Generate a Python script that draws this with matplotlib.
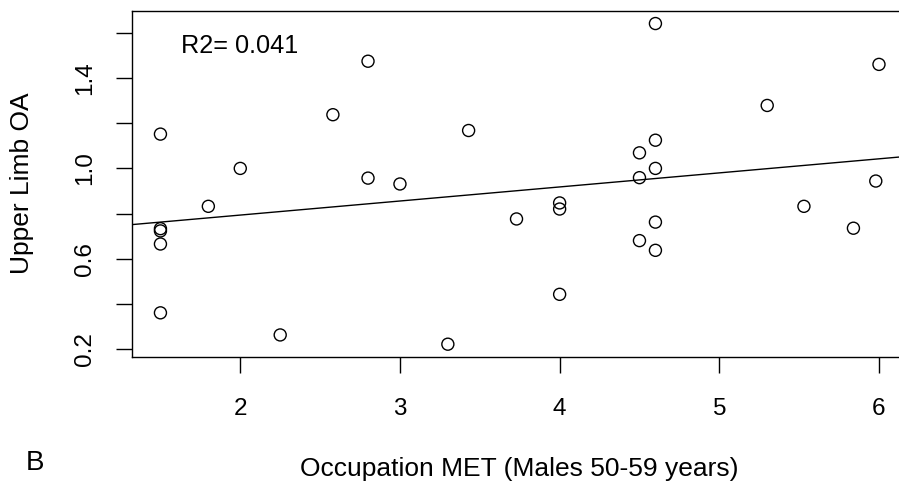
import matplotlib
matplotlib.use("Agg")
import matplotlib.pyplot as plt
import numpy as np

plt.rcParams['font.family'] = ['Liberation Sans', 'DejaVu Sans']

# Occupation MET vs Upper Limb OA
met = [1.5, 2.8, 2.58, 3.43, 2.0, 2.8, 3.0, 1.8, 1.5, 1.5, 1.5, 1.5, 2.25, 3.3,
       4.6, 6.0, 5.3, 4.6, 4.5, 4.6, 4.5, 5.98, 4.0, 4.0, 3.73, 5.53, 5.84,
       4.6, 4.5, 4.6, 4.0]
oa = [1.152, 1.475, 1.238, 1.168, 1.0, 0.957, 0.931, 0.832, 0.733, 0.723, 0.665,
      0.360, 0.262, 0.221, 1.642, 1.461, 1.279, 1.125, 1.069, 1.0, 0.959, 0.944,
      0.847, 0.820, 0.776, 0.832, 0.735, 0.762, 0.680, 0.637, 0.442]
xticks = [2, 3, 4, 5, 6]
yticks = [0.2, 0.4, 0.6, 0.8, 1.0, 1.2, 1.4, 1.6]
ylabels = ['0.2', '', '0.6', '', '1.0', '', '1.4', '']
r2_text = "R2= 0.041"

fs = 17.5
fig = plt.figure(figsize=(8.99, 4.87), dpi=100)
ax = fig.add_axes([0.1465, 0.2669, 0.8632, 0.7111])

ax.scatter(met, oa, s=75, facecolors='none', edgecolors='black', linewidths=1.0, zorder=3)

# R-style 4% padding
xr = max(met) - min(met)
yr = max(oa) - min(oa)
ax.set_xlim(min(met) - 0.04 * xr, max(met) + 0.04 * xr)
ax.set_ylim(min(oa) - 0.04 * yr, max(oa) + 0.04 * yr)

slope, icpt = np.polyfit(met, oa, 1)
xl = np.array(ax.get_xlim())
ax.plot(xl, icpt + slope * xl, color='black', lw=1.0)

ax.set_xticks(xticks)
ax.set_xticklabels([str(t) for t in xticks])
ax.set_yticks(yticks)
ax.set_yticklabels(ylabels, rotation=90, va='center')
ax.tick_params(axis='both', length=11.5, width=1.0, labelsize=fs)
ax.tick_params(axis='x', pad=18)
ax.tick_params(axis='y', pad=14)
for s in ax.spines.values():
    s.set_linewidth(1.0)

ax.text(0.063, 0.878, r2_text, transform=ax.transAxes, fontsize=18.2, ha='left', va='baseline')

fig.text(519.7 / 899, 1 - 469 / 487, "Occupation MET (Males 50-59 years)", fontsize=19,
         ha='center', va='center')
fig.text(22 / 899, 1 - 183 / 487, "Upper Limb OA", fontsize=19, rotation=90,
         ha='center', va='center')
fig.text(26 / 899, 1 - 463 / 487, "B", fontsize=20, ha='left', va='center')

fig.savefig("out.png", dpi=100)
